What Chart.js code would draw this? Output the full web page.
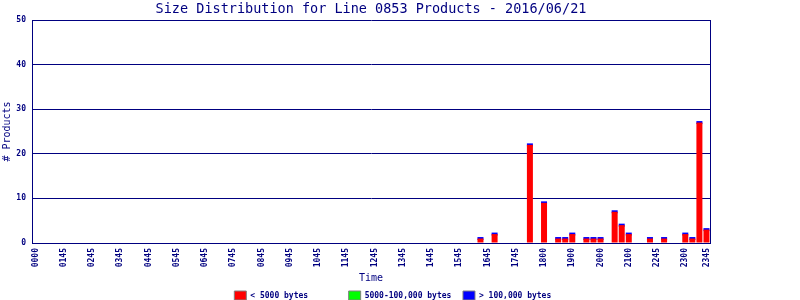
<!DOCTYPE html>
<html>
<head>
<meta charset="utf-8">
<script src="https://cdn.jsdelivr.net/npm/chart.js@4/dist/chart.umd.min.js"></script>
<style>
  html, body { margin: 0; padding: 0; background: #fff; }
  #wrap { width: 800px; height: 300px; }
</style>
</head>
<body>
<div id="wrap"><canvas id="sizeChart"></canvas></div>
<script>
const chartTitle = 'Size Distribution for Line 0853 Products - 2016/06/21';
const seriesNames = ['< 5000 bytes', '5000-100,000 bytes', '> 100,000 bytes'];
const slotCount = 96;
const tickLabels = ['0000', '0145', '0245', '0345', '0445', '0545', '0645', '0745', '0845',
  '0945', '1045', '1145', '1245', '1345', '1445', '1545', '1645', '1745', '1800', '1900',
  '2000', '2100', '2245', '2300', '2345'];
const tickSlots = [0, 4, 8, 12, 16, 20, 24, 28, 32, 36, 40, 44, 48, 52, 56, 60, 64, 68, 72,
  76, 80, 84, 88, 92, 95];
// slots that have products, and their counts
const barSlots = [63, 65, 70, 72, 74, 75, 76, 78, 79, 80, 82, 83, 84, 87, 89, 92, 93, 94, 95];
const smallCounts = [1, 2, 22, 9, 1, 1, 2, 1, 1, 1, 7, 4, 2, 1, 1, 2, 1, 27, 3];
const mediumCounts = [0, 0, 0, 0, 0, 0, 0, 0, 0, 0, 0, 0, 0, 0, 0, 0, 0, 0, 0];
const largeCounts = [0, 0, 0, 0, 0, 0, 0, 0, 0, 0, 0, 0, 0, 0, 0, 0, 0, 0, 0];

const navy = '#000080';
const mono = 'DejaVu Sans Mono';

const categories = [];
for (let i = 0; i < slotCount; i++) categories.push(i);

function spread(counts, empty) {
  const out = categories.map(() => empty);
  barSlots.forEach((s, i) => { out[s] = counts[i]; });
  return out;
}

const titlePlugin = {
  id: 'topTitle',
  afterDraw(chart) {
    const { ctx, chartArea } = chart;
    ctx.save();
    ctx.font = '13.5px "' + mono + '"';
    ctx.fillStyle = navy;
    ctx.textAlign = 'center';
    ctx.textBaseline = 'middle';
    ctx.fillText(chartTitle, (chartArea.left + chartArea.right) / 2, 9);
    ctx.restore();
  }
};

new Chart(document.getElementById('sizeChart'), {
  type: 'bar',
  data: {
    labels: categories,
    datasets: [
      { label: seriesNames[0], data: spread(smallCounts, 0), backgroundColor: '#ff0000' },
      { label: seriesNames[1], data: spread(mediumCounts, 0), backgroundColor: '#00ff00' },
      // zero-size top segment still shows as a thin line on top of the red
      { label: seriesNames[2], data: spread(largeCounts, null), backgroundColor: '#0000ff', minBarLength: 3 }
    ]
  },
  options: {
    responsive: true,
    maintainAspectRatio: false,
    animation: false,
    barPercentage: 0.85,
    categoryPercentage: 1,
    layout: { padding: { top: 20, left: 0, right: 0, bottom: -10 } },
    plugins: {
      title: { display: false },
      tooltip: { enabled: false },
      legend: {
        position: 'bottom',
        labels: {
          boxWidth: 12,
          boxHeight: 9,
          padding: 2,
          color: navy,
          font: { family: mono, size: 8, weight: 'bold' },
          generateLabels(chart) {
            const items = Chart.defaults.plugins.legend.labels.generateLabels(chart);
            items.forEach((it, i) => {
              it.text = it.text.padEnd(i < items.length - 1 ? 20 : 18, ' ');
              it.strokeStyle = '#808080';
              it.lineWidth = 1;
            });
            return items;
          }
        }
      }
    },
    scales: {
      x: {
        stacked: true,
        grid: { display: false, drawTicks: false, tickLength: 0 },
        border: { display: true, color: navy },
        ticks: {
          autoSkip: false,
          minRotation: 90,
          maxRotation: 90,
          padding: 5,
          color: navy,
          font: { family: mono, size: 8, weight: 'bold' },
          callback(value, index) {
            const k = tickSlots.indexOf(index);
            return k >= 0 ? tickLabels[k] : '';
          }
        },
        title: {
          display: true,
          text: 'Time',
          color: navy,
          padding: { top: 3, bottom: 5 },
          font: { family: mono, size: 10 }
        },
        afterFit(scale) { scale.height = 46; }
      },
      y: {
        stacked: true,
        min: 0,
        max: 50,
        grid: { color: navy, drawTicks: false, tickLength: 0 },
        border: { display: true, color: navy },
        ticks: {
          stepSize: 10,
          padding: 6,
          color: navy,
          font: { family: mono, size: 8, weight: 'bold' }
        },
        title: {
          display: true,
          text: '# Products',
          color: navy,
          padding: { top: 1, bottom: 0 },
          font: { family: mono, size: 10 }
        },
        afterFit(scale) { scale.width = 32; }
      },
      yRight: {
        type: 'linear',
        position: 'right',
        grid: { display: false, drawTicks: false },
        border: { display: true, color: navy },
        ticks: { display: false },
        afterFit(scale) { scale.width = 90; }
      }
    }
  },
  plugins: [titlePlugin]
});
</script>
</body>
</html>
